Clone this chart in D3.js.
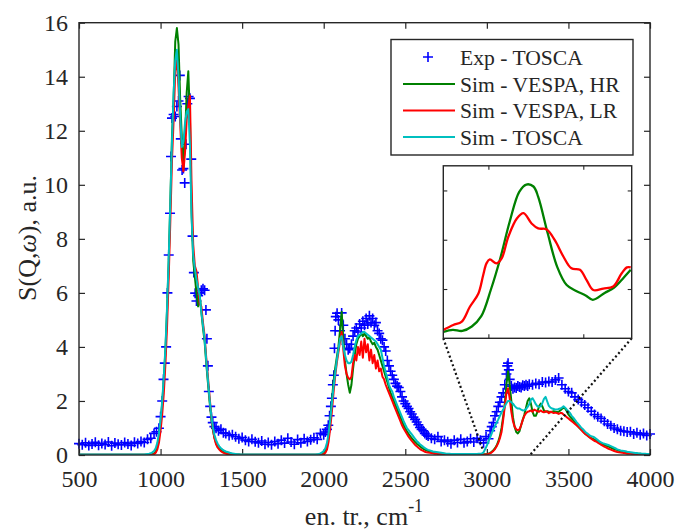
<!DOCTYPE html>
<html><head><meta charset="utf-8">
<script src="https://cdn.jsdelivr.net/npm/d3@7"></script>
<style>
body{margin:0;background:#fff}
svg{display:block}
</style>
</head><body>
<svg id="c" width="678" height="530" font-family="Liberation Serif" style="font-family:'Liberation Serif',serif"></svg>
<script>
// ---------------- DATA ----------------
const seriesNames = ["Exp - TOSCA", "Sim - VESPA, HR", "Sim - VESPA, LR", "Sim - TOSCA"];
const xTicks = [500, 1000, 1500, 2000, 2500, 3000, 3500, 4000];
const yTicks = [0, 2, 4, 6, 8, 10, 12, 14, 16];

// simulated spectra sampled every 10 cm-1 from 500 to 4000
const simStart = 500, simStep = 10;
const simHR = [
0.01,0.01,0.01,0.01,0.01,0.01,0.01,0.01,0.01,0.01,
0.01,0.01,0.01,0.01,0.01,0.01,0.01,0.01,0.01,0.01,
0.01,0.01,0.01,0.01,0.01,0.01,0.01,0.01,0.01,0.01,
0.01,0.01,0.01,0.01,0.01,0.01,0.01,0.01,0.01,0.01,
0.01,0.01,0.01,0.01,0.02,0.03,0.06,0.12,0.3,0.65,
1.2,1.9,2.8,3.9,5.4,7.2,9.4,11.8,13.2,15.3,
15.8,15.2,13.2,11.8,10.6,11.8,13.4,14.2,12.5,9.0,
7.2,6.6,6.0,5.5,5.9,5.3,4.7,4.2,3.4,2.7,
2.0,1.4,0.95,0.65,0.45,0.3,0.25,0.18,0.14,0.1,
0.08,0.06,0.05,0.04,0.03,0.03,0.02,0.02,0.02,0.01,
0.01,0.01,0.01,0.01,0.01,0.01,0.01,0.01,0.01,0.01,
0.01,0.01,0.01,0.01,0.01,0.01,0.01,0.01,0.01,0.01,
0.01,0.01,0.01,0.01,0.01,0.01,0.01,0.01,0.01,0.01,
0.01,0.01,0.01,0.01,0.01,0.01,0.01,0.01,0.01,0.01,
0.01,0.01,0.01,0.01,0.01,0.01,0.01,0.02,0.02,0.03,
0.05,0.12,0.3,0.7,1.3,2.0,2.7,3.2,3.6,4.0,
4.6,5.3,4.3,3.5,3.0,2.6,2.3,2.6,3.2,3.7,
4.1,4.3,4.4,4.5,4.4,4.5,4.4,4.3,4.35,4.2,
4.1,4.15,4.0,3.9,3.7,3.5,3.3,3.1,2.9,2.7,
2.5,2.3,2.15,2.0,1.85,1.7,1.55,1.4,1.25,1.1,
0.98,0.88,0.78,0.7,0.62,0.55,0.48,0.42,0.37,0.32,
0.27,0.23,0.2,0.17,0.15,0.13,0.11,0.1,0.09,0.08,
0.07,0.06,0.06,0.05,0.05,0.04,0.04,0.04,0.03,0.03,
0.03,0.03,0.03,0.03,0.03,0.03,0.03,0.03,0.03,0.03,
0.03,0.03,0.03,0.03,0.03,0.03,0.03,0.03,0.03,0.03,
0.03,0.05,0.08,0.12,0.18,0.25,0.35,0.5,0.7,1.0,
1.42,1.9,2.6,3.1,2.6,2.0,1.4,1.05,0.85,0.8,
0.88,1.1,1.3,1.5,1.75,2.0,2.1,1.9,1.6,1.45,
1.45,1.6,1.8,1.9,1.8,1.65,1.6,1.62,1.6,1.58,
1.6,1.62,1.6,1.58,1.6,1.65,1.7,1.75,1.72,1.62,
1.5,1.42,1.35,1.28,1.2,1.12,1.05,0.98,0.93,0.88,
0.8,0.75,0.7,0.66,0.62,0.6,0.57,0.53,0.5,0.46,
0.42,0.4,0.37,0.35,0.32,0.3,0.27,0.24,0.22,0.2,
0.18,0.16,0.14,0.12,0.11,0.1,0.09,0.08,0.07,0.06,
0.06,0.05,0.05,0.05,0.05,0.04,0.04,0.04,0.04,0.04,
0.04];

const simLR = [
0.01,0.01,0.01,0.01,0.01,0.01,0.01,0.01,0.01,0.01,
0.01,0.01,0.01,0.01,0.01,0.01,0.01,0.01,0.01,0.01,
0.01,0.01,0.01,0.01,0.01,0.01,0.01,0.01,0.01,0.01,
0.01,0.01,0.01,0.01,0.01,0.01,0.01,0.01,0.01,0.01,
0.01,0.01,0.01,0.01,0.01,0.01,0.03,0.08,0.2,0.45,
0.9,1.5,2.3,3.4,4.8,6.6,8.7,10.9,12.4,14.2,
14.7,13.6,12.3,11.0,10.5,11.2,12.4,12.9,13.3,10.0,
7.8,7.0,6.8,6.2,5.6,5.5,4.9,4.4,3.6,2.9,
2.2,1.5,1.0,0.62,0.4,0.28,0.2,0.14,0.1,0.07,
0.05,0.04,0.03,0.03,0.02,0.02,0.02,0.01,0.01,0.01,
0.01,0.01,0.01,0.01,0.01,0.01,0.01,0.01,0.01,0.01,
0.01,0.01,0.01,0.01,0.01,0.01,0.01,0.01,0.01,0.01,
0.01,0.01,0.01,0.01,0.01,0.01,0.01,0.01,0.01,0.01,
0.01,0.01,0.01,0.01,0.01,0.01,0.01,0.01,0.01,0.01,
0.01,0.01,0.01,0.01,0.01,0.01,0.01,0.01,0.02,0.02,
0.03,0.08,0.2,0.5,1.0,1.6,2.3,2.9,3.4,3.8,
4.2,4.55,3.9,3.3,3.0,2.85,2.8,2.9,3.4,3.7,
3.5,4.0,3.7,4.2,3.6,4.3,3.8,4.1,3.5,3.9,
3.4,3.7,3.2,3.5,3.1,3.2,2.9,2.8,2.6,2.45,
2.3,2.15,2.0,1.85,1.7,1.55,1.4,1.25,1.1,0.98,
0.88,0.78,0.68,0.6,0.52,0.45,0.38,0.32,0.27,0.22,
0.18,0.15,0.12,0.1,0.09,0.08,0.07,0.06,0.05,0.05,
0.04,0.04,0.04,0.03,0.03,0.03,0.03,0.03,0.03,0.03,
0.02,0.02,0.02,0.02,0.02,0.02,0.02,0.02,0.02,0.02,
0.02,0.02,0.02,0.02,0.02,0.02,0.02,0.02,0.02,0.02,
0.02,0.04,0.06,0.1,0.15,0.22,0.32,0.45,0.62,0.85,
1.3,1.8,2.3,2.47,2.1,1.6,1.25,1.05,0.95,0.92,
0.95,1.1,1.3,1.45,1.55,1.6,1.62,1.65,1.6,1.68,
1.65,1.62,1.6,1.65,1.6,1.58,1.62,1.6,1.55,1.6,
1.58,1.55,1.57,1.55,1.52,1.55,1.55,1.5,1.45,1.4,
1.35,1.3,1.25,1.2,1.15,1.1,1.05,1.0,0.92,0.85,
0.8,0.75,0.7,0.65,0.6,0.56,0.52,0.5,0.46,0.42,
0.38,0.35,0.31,0.28,0.25,0.22,0.2,0.17,0.15,0.13,
0.11,0.1,0.09,0.08,0.07,0.06,0.05,0.05,0.05,0.04,
0.04,0.04,0.04,0.04,0.04,0.04,0.04,0.04,0.04,0.04,
0.03];

const simTOSCA = [
0.02,0.02,0.02,0.02,0.02,0.02,0.02,0.02,0.02,0.02,
0.02,0.02,0.02,0.02,0.02,0.02,0.02,0.02,0.02,0.02,
0.02,0.02,0.02,0.02,0.02,0.02,0.02,0.02,0.02,0.02,
0.02,0.02,0.02,0.02,0.02,0.02,0.02,0.02,0.02,0.02,
0.02,0.03,0.04,0.05,0.07,0.1,0.15,0.25,0.45,0.8,
1.3,2.0,2.9,4.0,5.5,7.3,9.4,11.6,13.4,14.6,
15.0,14.0,12.6,11.4,11.6,12.3,12.7,12.8,11.5,8.8,
7.4,6.9,6.5,6.2,5.9,5.3,4.8,4.3,3.5,2.8,
2.1,1.5,1.05,0.75,0.55,0.42,0.32,0.25,0.2,0.16,
0.13,0.11,0.09,0.07,0.06,0.05,0.04,0.03,0.03,0.02,
0.02,0.02,0.02,0.02,0.02,0.02,0.02,0.02,0.02,0.02,
0.02,0.02,0.02,0.02,0.02,0.02,0.02,0.02,0.02,0.02,
0.02,0.02,0.02,0.02,0.02,0.02,0.02,0.02,0.02,0.02,
0.02,0.02,0.02,0.02,0.02,0.02,0.02,0.02,0.02,0.02,
0.02,0.02,0.02,0.02,0.02,0.02,0.03,0.04,0.06,0.1,
0.15,0.25,0.45,0.8,1.3,1.9,2.5,3.0,3.5,3.9,
4.3,4.4,4.0,3.7,3.5,3.4,3.4,3.45,3.7,4.0,
4.25,4.4,4.45,4.5,4.55,4.55,4.5,4.45,4.4,4.35,
4.3,4.25,4.2,4.1,4.0,3.9,3.6,3.3,3.05,2.85,
2.6,2.45,2.35,2.15,2.0,1.85,1.7,1.55,1.4,1.25,
1.12,1.0,0.92,0.84,0.76,0.68,0.6,0.52,0.46,0.4,
0.35,0.3,0.26,0.22,0.19,0.17,0.15,0.13,0.12,0.11,
0.1,0.09,0.08,0.07,0.06,0.05,0.05,0.05,0.04,0.04,
0.04,0.04,0.04,0.04,0.04,0.04,0.04,0.04,0.04,0.04,
0.04,0.04,0.04,0.04,0.04,0.05,0.05,0.06,0.1,0.22,
0.35,0.5,0.65,0.8,0.95,1.08,1.2,1.32,1.45,1.58,
1.68,1.8,1.92,2.0,2.0,1.95,1.9,1.82,1.75,1.72,
1.72,1.68,1.65,1.66,1.7,1.78,1.88,2.05,2.1,2.0,
1.88,1.8,1.78,1.8,1.92,2.08,2.15,1.98,1.82,1.75,
1.72,1.7,1.68,1.68,1.7,1.72,1.75,1.8,1.75,1.68,
1.62,1.55,1.45,1.38,1.3,1.22,1.15,1.08,1.0,0.95,
0.88,0.82,0.78,0.73,0.7,0.68,0.65,0.6,0.55,0.5,
0.47,0.44,0.42,0.4,0.38,0.36,0.33,0.3,0.27,0.24,
0.21,0.19,0.17,0.16,0.15,0.14,0.12,0.11,0.1,0.09,
0.08,0.07,0.07,0.06,0.06,0.05,0.05,0.05,0.04,0.04,
0.04];

// experimental points [energy, intensity]
const expTOSCA = [
[500,.42],[520,.38],[540,.45],[560,.35],[580,.41],[600,.47],[620,.36],[640,.43],[660,.39],[680,.48],
[700,.34],[720,.44],[740,.40],[760,.37],[780,.46],[800,.41],[820,.35],[840,.47],[860,.43],[880,.50],
[900,.46],[920,.58],[940,.62],[960,.80],[975,.86],
[990,.99],[1000,1.42],[1010,2.0],[1018,2.8],[1026,3.4],[1034,4.0],[1042,6.0],[1050,7.4],[1058,8.95],
[1064,11.05],[1070,12.47],[1080,12.6],[1090,12.53],[1100,12.9],[1110,13.1],[1118,14.05],[1124,11.7],
[1132,10.55],[1140,10.6],[1148,10.07],[1156,11.5],[1164,13.0],[1172,13.27],[1180,13.2],[1188,10.95],
[1196,8.1],[1204,6.75],[1212,5.99],[1220,5.7],[1230,5.9],[1240,6.0],[1250,6.1],[1260,6.15],[1270,6.1],
[1278,5.37],[1284,4.3],[1290,3.3],[1296,2.35],[1304,1.8],[1312,1.4],[1320,1.2],[1330,1.05],[1340,.99],
[1355,.9],[1370,.95],[1385,.82],[1400,.8],[1420,.72],[1440,.75],[1460,.68],[1480,.6],[1500,.65],
[1520,.55],[1540,.5],[1560,.58],[1580,.49],[1600,.45],[1620,.52],[1640,.4],[1660,.46],[1680,.38],
[1700,.5],[1720,.42],[1740,.55],[1760,.44],[1780,.62],[1800,.48],[1820,.4],[1840,.57],[1860,.45],
[1880,.6],[1900,.5],[1920,.56],[1940,.64],[1960,.58],[1980,.8],
[2000,.75],[2010,.85],[2020,.95],[2028,1.1],[2036,1.45],[2044,1.8],[2050,2.1],[2056,2.6],[2062,2.95],
[2066,3.95],[2070,4.6],[2074,5.12],[2082,5.25],[2090,5.0],[2100,4.6],[2110,5.26],[2120,4.8],[2130,4.3],
[2140,4.1],[2150,3.9],[2160,3.95],[2170,4.1],[2180,4.4],[2190,4.6],[2200,4.7],[2210,4.55],[2220,4.85],
[2230,4.7],[2240,4.95],[2250,4.8],[2260,5.05],[2270,4.85],[2280,5.15],[2290,4.9],[2300,5.05],[2310,4.8],
[2320,4.9],[2330,4.6],[2340,4.5],[2350,4.3],[2360,4.25],[2370,4.0],[2380,3.85],[2390,3.5],[2400,3.3],
[2410,3.1],[2420,2.95],[2430,2.8],[2440,2.65],[2450,2.55],[2460,2.5],[2470,2.35],[2480,2.15],[2490,2.0],
[2500,1.9],[2510,1.8],[2520,1.72],[2530,1.6],[2540,1.52],[2550,1.4],[2560,1.32],[2570,1.22],[2580,1.12],
[2590,1.02],[2600,.95],[2610,.9],[2620,.8],[2630,.74],[2640,.7],[2660,.62],[2680,.58],[2700,.68],
[2720,.5],[2740,.55],[2760,.49],[2780,.42],[2800,.55],[2820,.46],[2840,.58],[2860,.45],[2880,.5],
[2900,.6],[2920,.48],[2940,.62],[2960,.55],[2980,.45],[2995,.68],
[3010,.6],[3020,.9],[3030,1.05],[3040,1.2],[3050,1.45],[3060,1.6],[3070,1.8],[3080,1.95],[3090,2.15],
[3100,2.3],[3110,2.6],[3120,3.0],[3125,3.3],[3130,3.4],[3135,3.15],[3140,2.8],[3150,2.55],[3160,2.45],
[3170,2.5],[3180,2.48],[3190,2.55],[3200,2.52],[3210,2.5],[3220,2.58],[3230,2.55],[3240,2.6],[3250,2.55],
[3260,2.62],[3280,2.6],[3300,2.65],[3320,2.62],[3340,2.7],[3360,2.68],[3380,2.72],[3400,2.7],[3420,2.78],
[3440,2.85],[3460,2.6],[3480,2.45],[3500,2.35],[3520,2.3],[3540,2.15],[3560,2.05],[3580,1.95],[3600,1.85],
[3620,1.75],[3640,1.62],[3660,1.5],[3680,1.42],[3700,1.35],[3720,1.25],[3740,1.15],[3760,1.08],[3780,1.0],
[3800,.95],[3820,.9],[3840,.88],[3860,.85],[3880,.86],[3900,.78],[3920,.82],[3940,.75],[3960,.8],
[3980,.72],[4000,.78]];

// inset (magnified) curves [energy, intensity]
const insetHR = [
[3005,.13],[3025,.17],[3045,.15],[3065,.24],[3085,.45],[3105,.98],[3125,1.62],[3145,2.37],[3165,2.97],
[3180,3.12],[3195,3.08],[3205,2.87],[3225,2.13],[3245,1.45],[3265,1.08],[3285,.96],[3305,.87],[3320,.78],
[3345,.92],[3365,1.03],[3385,1.23],[3400,1.39]];
const insetLR = [
[3005,.17],[3026,.27],[3044,.34],[3061,.64],[3079,.91],[3089,1.28],[3096,1.52],[3103,1.6],[3117,1.52],
[3128,1.62],[3142,2.06],[3160,2.43],[3174,2.54],[3191,2.33],[3205,2.23],[3223,2.21],[3240,1.99],
[3258,1.66],[3275,1.42],[3293,1.39],[3307,1.18],[3321,.98],[3342,1.01],[3363,1.05],[3381,1.32],
[3392,1.44],[3400,1.44]];
const insetXTicks = [3100, 3300];
const insetYTicks = [1, 2, 3];
// region of the main plot that the inset magnifies (ends of the dotted leader lines)
const zoomFrom = [[2975, 0.2], [3265, 0]];

// ---------------- DRAW ----------------
const SERIF = '"Liberation Serif"';
const colors = ["#0000ff", "#008000", "#ff0000", "#00bfbf"];
const svg = d3.select("#c");
const ink = "#262626";

function txt(sel, size) {
  return sel.attr("font-family", "Liberation Serif").style("font-family", SERIF)
    .attr("font-size", size).style("font-size", size + "px").attr("fill", ink);
}

const x = d3.scaleLinear().domain([500, 4000]).range([79, 650]);
const y = d3.scaleLinear().domain([0, 16]).range([455, 22.7]);

const simE = simHR.map((_, i) => simStart + i * simStep);

svg.append("defs").append("clipPath").attr("id", "clip")
  .append("rect").attr("x", 79).attr("y", 22.7).attr("width", 571).attr("height", 432.3);

// axes
function styleAxis(g) {
  g.attr("font-family", "Liberation Serif").attr("font-size", 24);
  g.select(".domain").remove();
  g.selectAll(".tick line").attr("stroke", ink).attr("stroke-width", 1.2);
  g.selectAll(".tick text").call(txt, 24);
}
svg.append("g").attr("transform", "translate(0,455)")
  .call(d3.axisBottom(x).tickValues(xTicks).tickSizeInner(-6).tickSizeOuter(0).tickPadding(15).tickFormat(d3.format("d")))
  .call(styleAxis);
svg.append("g").attr("transform", "translate(0,22.7)")
  .call(d3.axisTop(x).tickValues(xTicks).tickSizeInner(-6).tickSizeOuter(0).tickFormat(""))
  .call(styleAxis);
svg.append("g").attr("transform", "translate(79,0)")
  .call(d3.axisLeft(y).tickValues(yTicks).tickSizeInner(-6).tickSizeOuter(0).tickPadding(11).tickFormat(d3.format("d")))
  .call(styleAxis);
svg.append("g").attr("transform", "translate(650,0)")
  .call(d3.axisRight(y).tickValues(yTicks).tickSizeInner(-6).tickSizeOuter(0).tickFormat(""))
  .call(styleAxis);

// experimental markers
const plus = "M-5,0H5M0,-5V5";
svg.append("g").selectAll("path").data(expTOSCA).join("path")
  .attr("d", plus)
  .attr("transform", d => `translate(${x(d[0])},${y(d[1])})`)
  .attr("stroke", colors[0]).attr("stroke-width", 1.6).attr("fill", "none");

// simulated lines
const line = d3.line().x((d, i) => x(simE[i])).y(d => y(d));
[simHR, simLR, simTOSCA].forEach((s, k) => {
  svg.append("path").datum(s).attr("clip-path", "url(#clip)")
    .attr("d", line).attr("fill", "none")
    .attr("stroke", colors[k + 1]).attr("stroke-width", 2).attr("stroke-linejoin", "round");
});

// frame
svg.append("rect").attr("x", 79).attr("y", 22.7).attr("width", 571).attr("height", 432.3)
  .attr("fill", "none").attr("stroke", ink).attr("stroke-width", 1.4);

// inset
const ix = d3.scaleLinear().domain([3005, 3402]).range([443.3, 631.7]);
const iy = d3.scaleLinear().domain([0, 3.5]).range([338.3, 165.8]);

// dotted leader lines
const corners = [[ix.range()[0], iy.range()[0]], [ix.range()[1], iy.range()[0]]];
zoomFrom.forEach((p, i) => {
  svg.append("line")
    .attr("x1", corners[i][0]).attr("y1", corners[i][1])
    .attr("x2", x(p[0])).attr("y2", y(p[1]))
    .attr("stroke", "#111").attr("stroke-width", 2.2).attr("stroke-dasharray", "2 2.6");
});

svg.append("rect").attr("x", 443.3).attr("y", 165.8).attr("width", 188.4).attr("height", 172.5)
  .attr("fill", "#fff");
svg.append("defs").append("clipPath").attr("id", "iclip")
  .append("rect").attr("x", 443.3).attr("y", 165.8).attr("width", 188.4).attr("height", 172.5);
function styleInset(g) {
  g.select(".domain").remove();
  g.selectAll(".tick line").attr("stroke", ink).attr("stroke-width", 1.1);
}
svg.append("g").attr("transform", "translate(0,338.3)")
  .call(d3.axisBottom(ix).tickValues(insetXTicks).tickSizeInner(-4).tickSizeOuter(0).tickFormat("")).call(styleInset);
svg.append("g").attr("transform", "translate(0,165.8)")
  .call(d3.axisTop(ix).tickValues(insetXTicks).tickSizeInner(-4).tickSizeOuter(0).tickFormat("")).call(styleInset);
svg.append("g").attr("transform", "translate(443.3,0)")
  .call(d3.axisLeft(iy).tickValues(insetYTicks).tickSizeInner(-4).tickSizeOuter(0).tickFormat("")).call(styleInset);
svg.append("g").attr("transform", "translate(631.7,0)")
  .call(d3.axisRight(iy).tickValues(insetYTicks).tickSizeInner(-4).tickSizeOuter(0).tickFormat("")).call(styleInset);

const iline = d3.line().x(d => ix(d[0])).y(d => iy(d[1])).curve(d3.curveCatmullRom.alpha(0.5));
[[insetHR, colors[1]], [insetLR, colors[2]]].forEach(([s, c]) => {
  svg.append("path").datum(s).attr("clip-path", "url(#iclip)").attr("d", iline)
    .attr("fill", "none").attr("stroke", c).attr("stroke-width", 2.3).attr("stroke-linejoin", "round");
});
svg.append("rect").attr("x", 443.3).attr("y", 165.8).attr("width", 188.4).attr("height", 172.5)
  .attr("fill", "none").attr("stroke", ink).attr("stroke-width", 1.4);

// legend
const lg = svg.append("g");
lg.append("rect").attr("x", 391).attr("y", 39.5).attr("width", 242).attr("height", 115.5)
  .attr("fill", "#fff").attr("stroke", ink).attr("stroke-width", 1.4);
const rowY = [57, 84, 110.5, 137];
seriesNames.forEach((name, i) => {
  if (i === 0) {
    lg.append("path").attr("d", plus).attr("transform", `translate(428,${rowY[i]})`)
      .attr("stroke", colors[0]).attr("stroke-width", 1.6);
  } else {
    lg.append("line").attr("x1", 403).attr("x2", 455).attr("y1", rowY[i]).attr("y2", rowY[i])
      .attr("stroke", colors[i]).attr("stroke-width", 2);
  }
  lg.append("text").attr("x", 460).attr("y", rowY[i] + 7.5).call(txt, 21.6).text(name);
});

// axis labels
const xl = svg.append("text").attr("x", 364).attr("y", 525).attr("text-anchor", "middle").call(txt, 26);
xl.append("tspan").text("en. tr., cm");
xl.append("tspan").attr("dy", -13).attr("font-size", 18).style("font-size", "18px").text("-1");

const yl = svg.append("text").attr("transform", "translate(36,238) rotate(-90)")
  .attr("text-anchor", "middle").call(txt, 26);
yl.append("tspan").text("S(Q,");
yl.append("tspan").style("font-style", "italic").text("ω");
yl.append("tspan").text("), a.u.");
</script>
</body></html>
